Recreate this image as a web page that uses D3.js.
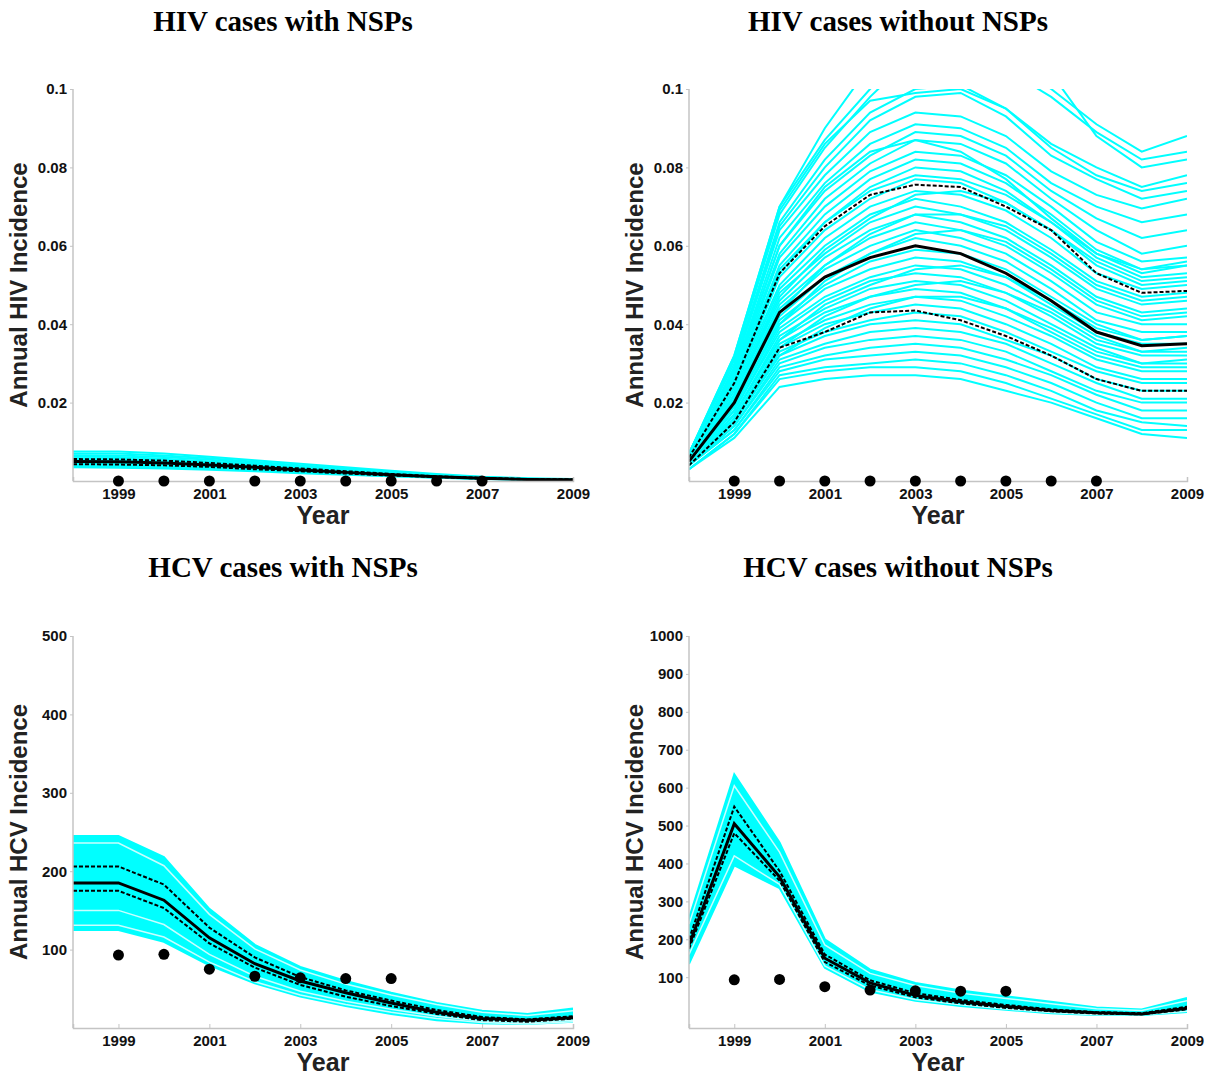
<!DOCTYPE html>
<html>
<head>
<meta charset="utf-8">
<script src="https://cdn.jsdelivr.net/npm/d3@7"></script>
<style>
  body { margin: 0; background: #fff; }
  svg { display: block; }
  .tick text { font-family: "Liberation Sans", Arial, sans-serif; font-weight: bold; font-size: 15px; fill: #111; }
</style>
</head>
<body>
<div id="chart"></div>
<script>
// years simulated and the odd-year tick labels
var years = [1998, 1999, 2000, 2001, 2002, 2003, 2004, 2005, 2006, 2007, 2008, 2009];
var xTicks = [1999, 2001, 2003, 2005, 2007, 2009];

// observed data points
var obsYearsHIV = [1999, 2000, 2001, 2002, 2003, 2004, 2005, 2006, 2007];
var obsHIV = [0, 0, 0, 0, 0, 0, 0, 0, 0];
var obsYearsHCV = [1999, 2000, 2001, 2002, 2003, 2004, 2005];
var obsHCV = [93, 94, 75, 66, 64, 63, 63];

// y tick labels
var hivTicks = [0.02, 0.04, 0.06, 0.08, 0.1];
var hivTickLabels = ["0.02", "0.04", "0.06", "0.08", "0.1"];
var hcvTicksA = [100, 200, 300, 400, 500];
var hcvTicksB = [100, 200, 300, 400, 500, 600, 700, 800, 900, 1000];

// HIV with NSPs
var hivWithRuns = [
  [0.0075,0.0075,0.0070,0.0062,0.0053,0.0044,0.0035,0.0026,0.0018,0.0011,0.0007,0.0005],
  [0.0070,0.0070,0.0065,0.0058,0.0049,0.0040,0.0032,0.0024,0.0016,0.0010,0.0006,0.0005],
  [0.0066,0.0065,0.0061,0.0054,0.0046,0.0038,0.0030,0.0022,0.0015,0.0009,0.0006,0.0004],
  [0.0062,0.0061,0.0057,0.0050,0.0043,0.0035,0.0028,0.0020,0.0014,0.0009,0.0005,0.0004],
  [0.0058,0.0057,0.0053,0.0047,0.0040,0.0033,0.0026,0.0019,0.0013,0.0008,0.0005,0.0004],
  [0.0054,0.0053,0.0050,0.0044,0.0037,0.0031,0.0024,0.0018,0.0012,0.0008,0.0005,0.0004],
  [0.0050,0.0049,0.0046,0.0041,0.0035,0.0029,0.0022,0.0016,0.0011,0.0007,0.0004,0.0003],
  [0.0046,0.0045,0.0042,0.0038,0.0032,0.0026,0.0020,0.0015,0.0010,0.0007,0.0004,0.0003],
  [0.0042,0.0041,0.0039,0.0035,0.0030,0.0024,0.0019,0.0014,0.0009,0.0006,0.0004,0.0003],
  [0.0038,0.0037,0.0035,0.0032,0.0027,0.0022,0.0017,0.0013,0.0009,0.0006,0.0004,0.0003],
  [0.0035,0.0034,0.0032,0.0029,0.0025,0.0020,0.0016,0.0012,0.0008,0.0005,0.0003,0.0003]
];
var hivWithMedian = [0.0050,0.0049,0.0046,0.0041,0.0035,0.0028,0.0022,0.0016,0.0011,0.0007,0.0004,0.0003];
var hivWithHi = [0.0056,0.0055,0.0052,0.0046,0.0039,0.0032,0.0025,0.0018,0.0012,0.0008,0.0005,0.0004];
var hivWithLo = [0.0043,0.0042,0.0040,0.0036,0.0030,0.0025,0.0019,0.0014,0.0010,0.0006,0.0004,0.0003];

// HIV without NSPs
var hivWithoutRuns = [
  [0.007,0.032,0.070,0.087,0.100,0.112,0.115,0.108,0.100,0.091,0.084,0.088],
  [0.007,0.031,0.068,0.085,0.098,0.109,0.112,0.105,0.098,0.089,0.082,0.084],
  [0.007,0.032,0.070,0.090,0.106,0.118,0.122,0.115,0.104,0.088,0.080,0.082],
  [0.007,0.031,0.069,0.086,0.097,0.099,0.100,0.095,0.085,0.078,0.074,0.076],
  [0.007,0.030,0.066,0.082,0.094,0.100,0.101,0.095,0.086,0.080,0.075,0.078],
  [0.006,0.029,0.065,0.080,0.092,0.098,0.099,0.093,0.083,0.077,0.072,0.074],
  [0.006,0.029,0.064,0.078,0.089,0.094,0.093,0.088,0.079,0.073,0.0695,0.072],
  [0.006,0.028,0.062,0.076,0.086,0.091,0.090,0.085,0.076,0.070,0.066,0.068],
  [0.006,0.028,0.060,0.074,0.083,0.089,0.088,0.083,0.074,0.067,0.062,0.064],
  [0.006,0.027,0.060,0.075,0.084,0.087,0.084,0.077,0.067,0.058,0.053,0.055],
  [0.006,0.027,0.058,0.072,0.081,0.087,0.086,0.081,0.072,0.064,0.058,0.060],
  [0.006,0.026,0.057,0.070,0.079,0.084,0.083,0.078,0.070,0.061,0.056,0.057],
  [0.006,0.026,0.055,0.068,0.077,0.082,0.081,0.076,0.068,0.059,0.054,0.055],
  [0.006,0.025,0.054,0.066,0.075,0.080,0.079,0.074,0.066,0.057,0.052,0.053],
  [0.005,0.024,0.053,0.066,0.074,0.078,0.077,0.073,0.066,0.058,0.054,0.056],
  [0.006,0.024,0.052,0.064,0.072,0.077,0.076,0.071,0.064,0.055,0.050,0.051],
  [0.005,0.024,0.050,0.062,0.070,0.074,0.073,0.069,0.062,0.053,0.049,0.050],
  [0.005,0.022,0.047,0.059,0.067,0.073,0.074,0.071,0.064,0.056,0.051,0.052],
  [0.005,0.023,0.049,0.060,0.068,0.072,0.070,0.066,0.059,0.051,0.047,0.048],
  [0.005,0.022,0.048,0.058,0.066,0.070,0.068,0.064,0.057,0.049,0.045,0.046],
  [0.005,0.020,0.043,0.055,0.063,0.068,0.068,0.065,0.058,0.050,0.046,0.047],
  [0.005,0.022,0.046,0.057,0.064,0.068,0.066,0.062,0.055,0.047,0.043,0.044],
  [0.005,0.021,0.045,0.055,0.062,0.066,0.064,0.060,0.053,0.045,0.041,0.042],
  [0.005,0.021,0.044,0.054,0.060,0.064,0.062,0.058,0.051,0.043,0.040,0.040],
  [0.005,0.019,0.040,0.051,0.058,0.063,0.064,0.061,0.054,0.046,0.042,0.043],
  [0.005,0.020,0.042,0.052,0.058,0.062,0.060,0.056,0.049,0.041,0.038,0.038],
  [0.005,0.019,0.041,0.050,0.056,0.059,0.058,0.054,0.047,0.040,0.036,0.037],
  [0.005,0.019,0.040,0.049,0.054,0.057,0.056,0.052,0.045,0.038,0.035,0.035],
  [0.005,0.018,0.039,0.047,0.052,0.055,0.054,0.050,0.044,0.037,0.033,0.033],
  [0.004,0.017,0.036,0.045,0.050,0.054,0.055,0.052,0.046,0.039,0.036,0.037],
  [0.004,0.018,0.038,0.046,0.051,0.053,0.052,0.048,0.042,0.035,0.032,0.032],
  [0.004,0.017,0.037,0.044,0.049,0.051,0.050,0.046,0.040,0.034,0.030,0.030],
  [0.004,0.016,0.034,0.042,0.047,0.050,0.051,0.048,0.043,0.036,0.033,0.034],
  [0.004,0.017,0.036,0.043,0.047,0.049,0.048,0.044,0.038,0.032,0.029,0.029],
  [0.004,0.016,0.035,0.041,0.045,0.047,0.046,0.042,0.037,0.031,0.028,0.028],
  [0.004,0.015,0.032,0.039,0.044,0.047,0.047,0.044,0.039,0.033,0.030,0.031],
  [0.004,0.016,0.034,0.040,0.043,0.045,0.044,0.040,0.035,0.029,0.026,0.026],
  [0.004,0.015,0.033,0.038,0.041,0.043,0.042,0.038,0.033,0.028,0.025,0.025],
  [0.004,0.015,0.032,0.037,0.040,0.041,0.040,0.036,0.032,0.026,0.023,0.023],
  [0.004,0.014,0.031,0.035,0.038,0.039,0.038,0.035,0.030,0.025,0.021,0.021],
  [0.004,0.014,0.030,0.034,0.036,0.037,0.036,0.033,0.028,0.023,0.020,0.020],
  [0.004,0.013,0.029,0.032,0.034,0.035,0.034,0.031,0.027,0.022,0.018,0.018],
  [0.004,0.013,0.028,0.031,0.032,0.033,0.032,0.029,0.025,0.020,0.016,0.016],
  [0.003,0.012,0.027,0.029,0.030,0.031,0.030,0.027,0.023,0.018,0.015,0.014],
  [0.003,0.012,0.026,0.028,0.029,0.029,0.028,0.025,0.021,0.017,0.013,0.013],
  [0.003,0.011,0.024,0.026,0.027,0.027,0.026,0.023,0.020,0.016,0.012,0.011]
];
var hivWithoutMedian = [0.005,0.020,0.043,0.052,0.057,0.060,0.058,0.053,0.046,0.038,0.0345,0.035];
var hivWithoutHi = [0.006,0.025,0.053,0.065,0.073,0.0756,0.075,0.070,0.064,0.053,0.048,0.0485];
var hivWithoutLo = [0.004,0.015,0.034,0.038,0.043,0.0435,0.041,0.037,0.032,0.026,0.023,0.023];

// HCV with NSPs
var hcvWithUpper = [245,245,218,152,106,78,60,45,32,22,18,25];
var hcvWithLower = [125,125,110,80,57,40,28,18,10,6,5,8];
var hcvWithRuns = [
  [245,245,218,152,106,78,60,45,32,22,18,25],
  [222,222,196,137,96,70,53,39,28,19,15,20],
  [138,138,121,87,61,43,31,21,13,8,6,9],
  [125,125,110,80,57,40,28,18,10,6,5,8]
];
// thin pale gaps between runs
var hcvWithGaps = [
  [236,236,207,145,101,74,56,42,30,20,16,22],
  [150,150,132,94,66,47,34,24,15,9,7,10],
  [131,131,116,84,59,42,30,20,12,7,5,8]
];
var hcvWithMedian = [185,185,163,115,82,60,45,32,20,12,10,13];
var hcvWithHi = [206,206,183,128,90,65,48,35,23,14,11,15];
var hcvWithLo = [175,175,153,108,77,55,40,28,18,10,8,12];

// HCV without NSPs
var hcvWithoutUpper = [255,635,455,200,120,85,65,50,35,20,15,45];
var hcvWithoutLower = [135,395,335,125,62,38,24,14,5,0,0,8];
var hcvWithoutRuns = [
  [255,635,455,200,120,85,65,50,35,20,15,45],
  [220,560,405,170,100,70,52,38,25,13,9,30],
  [170,440,350,135,70,44,29,18,8,2,1,12],
  [135,395,335,125,62,38,24,14,5,0,0,8]
];
var hcvWithoutGaps = [
  [240,605,430,185,110,78,58,44,30,17,12,38],
  [160,420,345,130,67,41,27,16,7,1,1,10]
];
var hcvWithoutMedian = [185,505,365,150,85,52,35,23,12,6,3,18];
var hcvWithoutHi = [200,550,380,160,92,58,40,27,15,8,5,22];
var hcvWithoutLo = [175,480,355,140,78,47,31,19,10,4,2,15];

var W = 1216, H = 1077;
var svg = d3.select("#chart").append("svg")
  .attr("width", W)
  .attr("height", H);

var CYAN = "#00ffff";
var AXIS = "#c4c4c4";

function drawPanel(p) {
  var x = d3.scaleLinear().domain([1998, 2009]).range([p.left, p.right]);
  var y = d3.scaleLinear().domain(p.yDomain).range([p.bottom, p.top]);

  var g = svg.append("g");

  // title
  g.append("text")
    .attr("x", (p.left + p.right) / 2 - 40)
    .attr("y", p.titleY)
    .attr("text-anchor", "middle")
    .style("font-family", "'Liberation Serif', 'Times New Roman', serif")
    .style("font-weight", "bold")
    .style("font-size", "29px")
    .text(p.title);

  var clipId = "clip" + p.id;
  g.append("clipPath").attr("id", clipId)
    .append("rect")
    .attr("x", p.left).attr("y", p.top)
    .attr("width", p.right - p.left).attr("height", p.bottom - p.top);

  var plot = g.append("g").attr("clip-path", "url(#" + clipId + ")");

  var line = d3.line()
    .x(function(d, i) { return x(years[i]); })
    .y(function(d) { return y(d); });

  if (p.upper) {
    var area = d3.area()
      .x(function(d, i) { return x(years[i]); })
      .y0(function(d, i) { return y(p.lower[i]); })
      .y1(function(d) { return y(d); });
    plot.append("path")
      .datum(p.upper)
      .attr("d", area)
      .attr("fill", CYAN);
  }

  plot.selectAll(".run")
    .data(p.runs)
    .enter()
    .append("path")
    .attr("class", "run")
    .attr("d", line)
    .attr("fill", "none")
    .attr("stroke", CYAN)
    .attr("stroke-width", 2);

  if (p.gaps) {
    plot.selectAll(".gap")
      .data(p.gaps)
      .enter()
      .append("path")
      .attr("class", "gap")
      .attr("d", line)
      .attr("fill", "none")
      .attr("stroke", "#c8ffff")
      .attr("stroke-width", 1.5);
  }

  // credible interval dashed lines
  [p.hi, p.lo].forEach(function(s) {
    plot.append("path")
      .datum(s)
      .attr("d", line)
      .attr("fill", "none")
      .attr("stroke", "#000")
      .attr("stroke-width", 2)
      .attr("stroke-dasharray", "4,2");
  });

  plot.append("path")
    .datum(p.median)
    .attr("d", line)
    .attr("fill", "none")
    .attr("stroke", "#000")
    .attr("stroke-width", 3);

  // axes
  var xAxis = d3.axisBottom(x).tickValues(xTicks).tickFormat(d3.format("d")).tickSize(-4).tickPadding(7);
  var gx = g.append("g")
    .attr("transform", "translate(0," + p.bottom + ")")
    .call(xAxis);
  gx.select(".domain").attr("stroke", AXIS).attr("stroke-width", 1.5);
  gx.selectAll(".tick line").attr("stroke", AXIS);

  var yAxis = d3.axisLeft(y).tickValues(p.yTicks).tickSize(3).tickPadding(3);
  if (p.yLabels) yAxis.tickFormat(function(d, i) { return p.yLabels[i]; });
  else yAxis.tickFormat(d3.format("d"));
  var gy = g.append("g")
    .attr("transform", "translate(" + p.left + ",0)")
    .call(yAxis);
  gy.select(".domain").attr("stroke", AXIS).attr("stroke-width", 1.5)
    .attr("d", "M0," + p.top + "V" + p.bottom);
  gy.selectAll(".tick line").attr("stroke", AXIS);

  // observed points
  g.selectAll(".obs")
    .data(p.obs)
    .enter()
    .append("circle")
    .attr("cx", function(d, i) { return x(p.obsYears[i]); })
    .attr("cy", function(d) { return y(d); })
    .attr("r", 5.5)
    .attr("fill", "#000");

  // axis titles
  g.append("text")
    .attr("x", (p.left + p.right) / 2)
    .attr("y", p.bottom + 43)
    .attr("text-anchor", "middle")
    .style("font-family", "'Liberation Sans', Arial, sans-serif")
    .style("font-size", "25px")
    .style("font-weight", "bold")
    .style("fill", "#222")
    .text("Year");

  g.append("text")
    .attr("transform", "translate(" + (p.left - 46) + "," + ((p.top + p.bottom) / 2) + ") rotate(-90)")
    .attr("text-anchor", "middle")
    .style("font-family", "'Liberation Sans', Arial, sans-serif")
    .style("font-size", "24px")
    .style("font-weight", "bold")
    .style("fill", "#222")
    .text(p.yTitle);
}

drawPanel({
  id: 1, title: "HIV cases with NSPs", titleY: 31,
  left: 73, right: 573, top: 89, bottom: 481,
  yDomain: [0, 0.1], yTicks: hivTicks, yLabels: hivTickLabels,
  yTitle: "Annual HIV Incidence",
  runs: hivWithRuns, median: hivWithMedian, hi: hivWithHi, lo: hivWithLo,
  obs: obsHIV, obsYears: obsYearsHIV
});

drawPanel({
  id: 2, title: "HIV cases without NSPs", titleY: 31,
  left: 689, right: 1187, top: 89, bottom: 481,
  yDomain: [0, 0.1], yTicks: hivTicks, yLabels: hivTickLabels,
  yTitle: "Annual HIV Incidence",
  runs: hivWithoutRuns, median: hivWithoutMedian, hi: hivWithoutHi, lo: hivWithoutLo,
  obs: obsHIV, obsYears: obsYearsHIV
});

drawPanel({
  id: 3, title: "HCV cases with NSPs", titleY: 577,
  left: 73, right: 573, top: 636, bottom: 1028,
  yDomain: [0, 500], yTicks: hcvTicksA,
  yTitle: "Annual HCV Incidence",
  upper: hcvWithUpper, lower: hcvWithLower, gaps: hcvWithGaps,
  runs: hcvWithRuns, median: hcvWithMedian, hi: hcvWithHi, lo: hcvWithLo,
  obs: obsHCV, obsYears: obsYearsHCV
});

drawPanel({
  id: 4, title: "HCV cases without NSPs", titleY: 577,
  left: 689, right: 1187, top: 636, bottom: 1028,
  yDomain: [-34, 1000], yTicks: hcvTicksB,
  yTitle: "Annual HCV Incidence",
  upper: hcvWithoutUpper, lower: hcvWithoutLower, gaps: hcvWithoutGaps,
  runs: hcvWithoutRuns, median: hcvWithoutMedian, hi: hcvWithoutHi, lo: hcvWithoutLo,
  obs: obsHCV, obsYears: obsYearsHCV
});
</script>
</body>
</html>
